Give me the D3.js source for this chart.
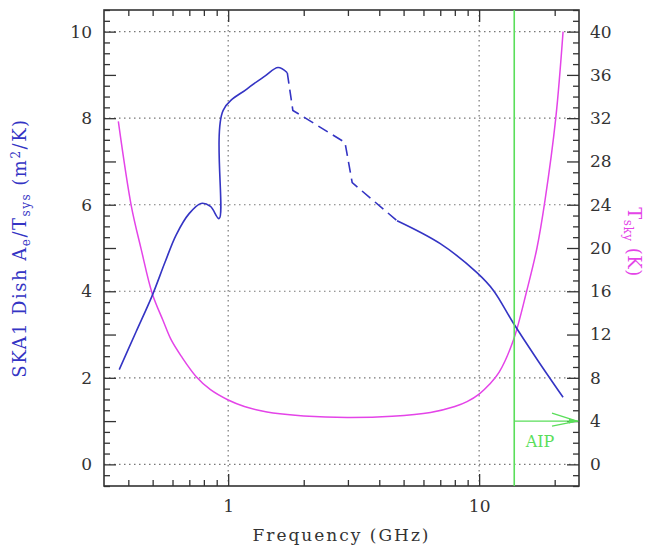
<!DOCTYPE html>
<meta charset="utf-8">
<body style="margin:0;background:#fff">
<style>
  text { font-family: "DejaVu Serif", serif; }
  .grid line { stroke: #777; stroke-width: 1.2px; stroke-dasharray: 1.5,3.5; }
  .axis path { display: none; }
  .axis line { stroke: #333; stroke-width: 1.3px; }
  .axis text { font-size: 17px; fill: #333; }
</style>
<svg width="652" height="550"></svg>
<script src="https://d3js.org/d3.v7.min.js"></script>
<script>

// SKA1 dish sensitivity Ae/Tsys (m^2/K), three bands
var lowFreq  = [0.368, 0.43, 0.498, 0.56, 0.62, 0.70, 0.78, 0.85, 0.92, 0.955, 1.19, 1.40, 1.58, 1.72];
var lowSens  = [2.19, 3.07, 3.90, 4.67, 5.30, 5.80, 6.03, 5.96, 5.68, 8.18, 8.68, 8.97, 9.17, 9.05];
var midFreq  = [1.72, 1.81, 2.92, 3.12, 4.71];
var midSens  = [9.05, 8.18, 7.44, 6.51, 5.63];
var highFreq = [4.71, 7.0, 9.8, 11.4, 13.7, 17.0, 21.6];
var highSens = [5.63, 5.10, 4.43, 4.02, 3.26, 2.43, 1.55];

// sky temperature (K)
var skyFreq = [0.365, 0.411, 0.45, 0.498, 0.55, 0.593, 0.65, 0.746, 0.85, 1.0, 1.16, 1.35, 1.51, 2.0, 2.98,
               4.5, 6.4, 8.0, 8.95, 10, 11, 12, 13.7, 15.5, 17, 18.3, 20.2, 21.6];
var skyTemp = [31.7, 23.9, 19.9, 15.8, 13.3, 11.5, 10.0, 8.1, 6.9, 5.95, 5.35, 4.95, 4.75, 4.48, 4.34,
               4.45, 4.8, 5.35, 5.8, 6.5, 7.4, 8.5, 11.5, 16.1, 20.0, 24.4, 32, 40];

var aipFreq = 13.8;      // AIP boundary
var aipArrowTemp = 4;    // arrow level (K)

var xMajor = [1, 10];
var xMinor = [0.4, 0.5, 0.6, 0.7, 0.8, 0.9, 2, 3, 4, 5, 6, 7, 8, 9, 20];
var yLabels = [0, 2, 4, 6, 8, 10];
var tLabels = [0, 4, 8, 12, 16, 20, 24, 28, 32, 36, 40];

var svg = d3.select("svg");
var L = 104, R = 579, T = 10, B = 486;

var x = d3.scaleLog().domain([0.32, 25]).range([L, R]);
var y = d3.scaleLinear().domain([-0.5, 10.5]).range([B, T]);
var yT = d3.scaleLinear().domain([-2, 42]).range([B, T]);

var blue = "#3434c4", magenta = "#e444e8", green = "#5ade5a";

// grid
var grid = svg.append("g").attr("class", "grid");
grid.selectAll(".gy").data(yLabels).enter().append("line")
    .attr("x1", L).attr("x2", R)
    .attr("y1", function(d) { return y(d); }).attr("y2", function(d) { return y(d); });
grid.selectAll(".gx").data(xMajor).enter().append("line")
    .attr("y1", T).attr("y2", B)
    .attr("x1", function(d) { return x(d); }).attr("x2", function(d) { return x(d); });

// axes (ticks inward)
var minorY = d3.range(-0.5, 10.51, 0.25).filter(function(v) { return v % 1 !== 0; });
var majorY = d3.range(0, 11, 1);
var minorT = d3.range(-2, 42.1, 1).filter(function(v) { return v % 4 !== 0; });

svg.append("g").attr("class", "axis").attr("transform", "translate(" + L + ",0)")
   .call(d3.axisLeft(y).tickValues(minorY).tickSize(-6).tickFormat(""));
svg.append("g").attr("class", "axis").attr("transform", "translate(" + L + ",0)")
   .call(d3.axisLeft(y).tickValues(majorY).tickSize(-12).tickPadding(12)
         .tickFormat(function(d) { return d % 2 === 0 ? d : ""; }));
svg.append("g").attr("class", "axis").attr("transform", "translate(" + R + ",0)")
   .call(d3.axisRight(yT).tickValues(minorT).tickSize(-6).tickFormat(""));
svg.append("g").attr("class", "axis").attr("transform", "translate(" + R + ",0)")
   .call(d3.axisRight(yT).tickValues(tLabels).tickSize(-12).tickPadding(11).tickFormat(d3.format("d")));

svg.append("g").attr("class", "axis").attr("transform", "translate(0," + B + ")")
   .call(d3.axisBottom(x).tickValues(xMinor).tickSize(-6).tickFormat(""));
svg.append("g").attr("class", "axis").attr("transform", "translate(0," + B + ")")
   .call(d3.axisBottom(x).tickValues(xMajor).tickSize(-12).tickPadding(14).tickFormat(d3.format("d")));
svg.append("g").attr("class", "axis").attr("transform", "translate(0," + T + ")")
   .call(d3.axisTop(x).tickValues(xMinor).tickSize(-6).tickFormat(""));
svg.append("g").attr("class", "axis").attr("transform", "translate(0," + T + ")")
   .call(d3.axisTop(x).tickValues(xMajor).tickSize(-12).tickFormat(""));

// frame
svg.append("rect").attr("x", L).attr("y", T).attr("width", R - L).attr("height", B - T)
   .attr("fill", "none").attr("stroke", "#333").attr("stroke-width", 1.6);

// curves
var smooth = d3.curveCatmullRom.alpha(0.5);
var sensLine = d3.line()
    .x(function(d) { return x(d[0]); })
    .y(function(d) { return y(d[1]); })
    .curve(smooth);
var skyLine = d3.line()
    .x(function(d) { return x(d[0]); })
    .y(function(d) { return yT(d[1]); })
    .curve(smooth);

svg.append("path").datum(d3.zip(skyFreq, skyTemp))
   .attr("d", skyLine).attr("fill", "none").attr("stroke", magenta).attr("stroke-width", 1.5);

svg.append("path").datum(d3.zip(lowFreq, lowSens))
   .attr("d", sensLine).attr("fill", "none").attr("stroke", blue).attr("stroke-width", 1.6);
svg.append("path").datum(d3.zip(midFreq, midSens))
   .attr("d", sensLine.curve(d3.curveLinear)).attr("fill", "none").attr("stroke", blue)
   .attr("stroke-width", 1.6).attr("stroke-dasharray", "11,6");
svg.append("path").datum(d3.zip(highFreq, highSens))
   .attr("d", sensLine.curve(smooth)).attr("fill", "none").attr("stroke", blue).attr("stroke-width", 1.6);

// AIP marker
svg.append("line").attr("x1", x(aipFreq)).attr("x2", x(aipFreq)).attr("y1", T).attr("y2", B)
   .attr("stroke", green).attr("stroke-width", 1.6);
var ay = yT(aipArrowTemp);
svg.append("line").attr("x1", x(aipFreq)).attr("x2", R - 1).attr("y1", ay).attr("y2", ay)
   .attr("stroke", green).attr("stroke-width", 1.3);
svg.append("path").attr("d", "M" + (R - 27) + "," + (ay - 8) + "L" + (R - 2) + "," + ay + "L" + (R - 27) + "," + (ay + 5))
   .attr("fill", "none").attr("stroke", green).attr("stroke-width", 1.3);
svg.append("path").attr("d", "M" + (R - 10) + "," + (ay - 2.5) + "L" + (R - 1) + "," + ay + "L" + (R - 10) + "," + (ay + 2.5) + "Z")
   .attr("fill", green);
svg.append("text").attr("x", 540).attr("y", 447).attr("text-anchor", "middle")
   .attr("font-size", 16).attr("fill", green).text("AIP");

// axis titles
svg.append("text").attr("x", (L + R) / 2).attr("y", 541).attr("text-anchor", "middle")
   .attr("font-size", 17).attr("letter-spacing", 2).attr("fill", "#333").text("Frequency (GHz)");

var lt = svg.append("text").attr("transform", "translate(26,248) rotate(-90)")
   .attr("text-anchor", "middle").attr("font-size", 18).attr("letter-spacing", 1.5).attr("fill", blue);
lt.append("tspan").text("SKA1 Dish A");
lt.append("tspan").attr("font-size", 12).attr("dy", 4).text("e");
lt.append("tspan").attr("dy", -4).text("/T");
lt.append("tspan").attr("font-size", 12).attr("dy", 4).text("sys");
lt.append("tspan").attr("dy", -4).text("  (m");
lt.append("tspan").attr("font-size", 12).attr("dy", -6).text("2");
lt.append("tspan").attr("dy", 6).text("/K)");

var rt = svg.append("text").attr("transform", "translate(628,242) rotate(90)")
   .attr("text-anchor", "middle").attr("font-size", 18).attr("letter-spacing", 0.5).attr("fill", magenta);
rt.append("tspan").text("T");
rt.append("tspan").attr("font-size", 12).attr("dy", 4).text("sky");
rt.append("tspan").attr("dy", -4).text("  (K)");

</script>
</body>
